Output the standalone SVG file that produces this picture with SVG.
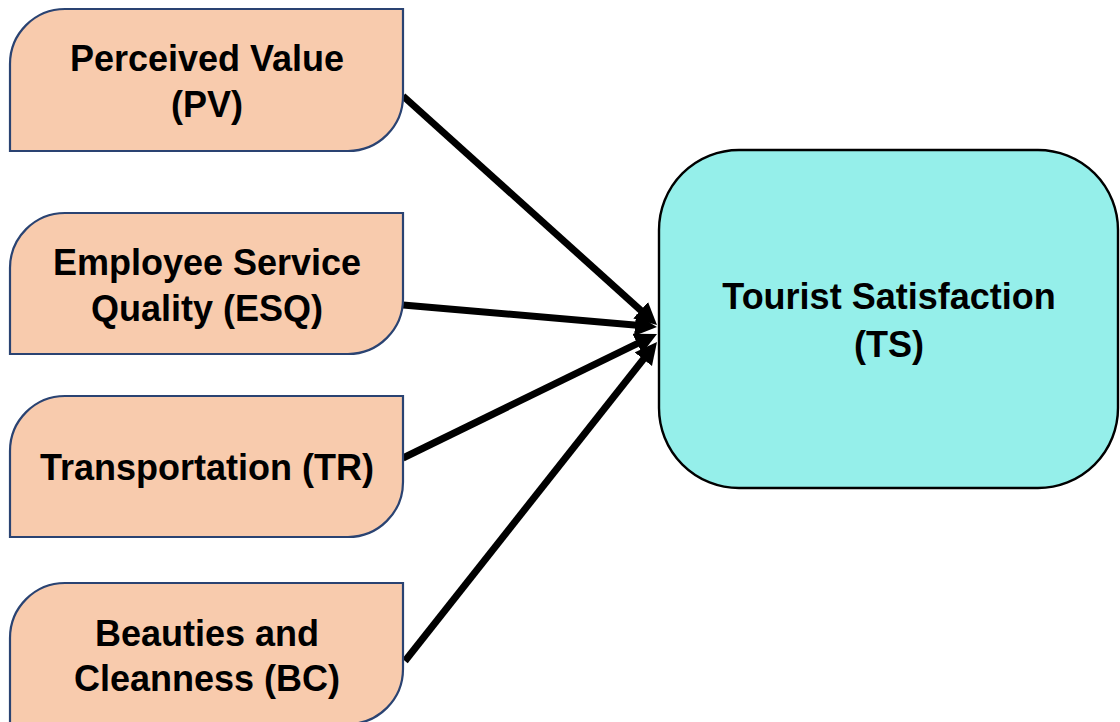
<svg xmlns="http://www.w3.org/2000/svg" width="1120" height="722" viewBox="0 0 1120 722">
  <style>
    .src { fill: #F8CBAD; stroke: #2A4372; stroke-width: 2.2; }
    .dst { fill: #95EFEA; stroke: #000000; stroke-width: 2.4; }
    .lbl { font-family: "Liberation Sans", Arial, sans-serif; font-weight: bold; font-size: 36px; fill: #000000; text-anchor: middle; }
    .edge { stroke: #000000; stroke-width: 7; fill: none; }
  </style>
  <defs>
    <!-- head overlaps the line end by 8px so the butt cap stays hidden -->
    <marker id="arrow" markerUnits="userSpaceOnUse" markerWidth="26" markerHeight="26" refX="8" refY="11" orient="auto">
      <path d="M0,0 L22,11 L0,22 Z" fill="#000000"/>
    </marker>
  </defs>
  <rect width="1120" height="722" fill="#FFFFFF"/>

  <g id="connectors">
    <line class="edge" x1="403" y1="96" x2="646.6" y2="315.6" marker-end="url(#arrow)"/>
    <line class="edge" x1="403" y1="305" x2="643" y2="325.8" marker-end="url(#arrow)"/>
    <line class="edge" x1="403" y1="458" x2="644.4" y2="340.1" marker-end="url(#arrow)"/>
    <line class="edge" x1="405" y1="661" x2="648.3" y2="353" marker-end="url(#arrow)"/>
  </g>

  <g id="pv">
    <path class="src" d="M10,151 L10,64 A55,55 0 0 1 65,9 L403,9 L403,96 A55,55 0 0 1 348,151 Z"/>
    <text class="lbl" x="207" y="71">Perceived Value</text>
    <text class="lbl" x="207" y="117">(PV)</text>
  </g>

  <g id="esq">
    <path class="src" d="M10,354 L10,268 A55,55 0 0 1 65,213 L403,213 L403,299 A55,55 0 0 1 348,354 Z"/>
    <text class="lbl" x="207" y="275">Employee Service</text>
    <text class="lbl" x="207" y="321">Quality (ESQ)</text>
  </g>

  <g id="tr">
    <path class="src" d="M10,537 L10,451 A55,55 0 0 1 65,396 L403,396 L403,482 A55,55 0 0 1 348,537 Z"/>
    <text class="lbl" x="207" y="480">Transportation (TR)</text>
  </g>

  <g id="bc">
    <path class="src" d="M10,724 L10,638 A55,55 0 0 1 65,583 L403,583 L403,669 A55,55 0 0 1 348,724 Z"/>
    <text class="lbl" x="207" y="646">Beauties and</text>
    <text class="lbl" x="207" y="691">Cleanness (BC)</text>
  </g>

  <g id="ts">
    <rect class="dst" x="659" y="150" width="459" height="338" rx="80" ry="80"/>
    <text class="lbl" x="889" y="309">Tourist Satisfaction</text>
    <text class="lbl" x="889" y="357">(TS)</text>
  </g>
</svg>
